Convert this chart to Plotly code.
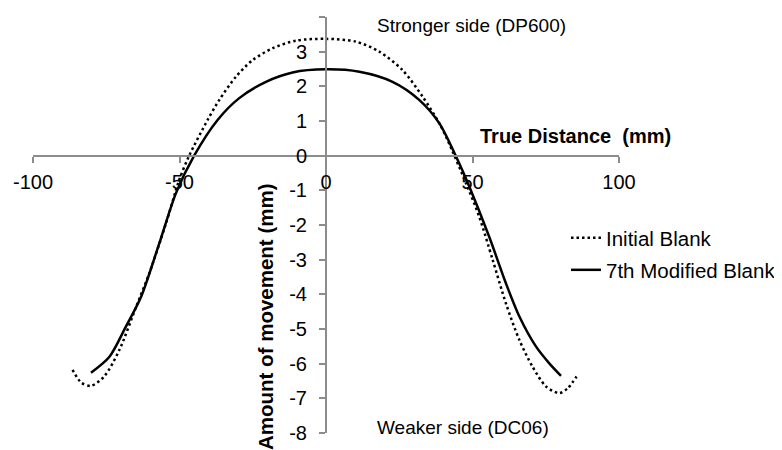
import plotly.graph_objects as go

# Initial Blank (dotted)
x_initial = [-86.5, -83.5, -80.2, -75.7, -70.5, -64.8, -60.3, -54.6, -50.1, -46.7, -40.4, -36.4,
             -30.7, -25.0, -18.2, -10.2, 0.0, 10.2, 18.2, 26.1, 33.0, 38.7, 41.5, 47.8, 52.3,
             56.9, 61.4, 66.0, 70.5, 75.1, 79.6, 82.5, 85.5]
y_initial = [-6.18, -6.55, -6.64, -6.37, -5.60, -4.36, -3.39, -1.95, -0.70, 0.0, 1.03, 1.61,
             2.28, 2.76, 3.10, 3.32, 3.37, 3.29, 3.00, 2.47, 1.70, 0.93, 0.45, -0.80, -1.76,
             -3.01, -4.26, -5.32, -6.09, -6.66, -6.85, -6.71, -6.37]

# 7th Modified Blank (solid)
x_modified = [-80.2, -73.9, -68.3, -63.1, -56.9, -51.2, -45.0, -37.0, -29.6, -20.5, -11.4, 0.0,
              11.4, 22.7, 31.8, 38.7, 44.9, 48.9, 55.7, 61.4, 66.0, 71.7, 76.2, 80.2]
y_modified = [-6.26, -5.80, -4.93, -4.07, -2.53, -1.08, 0.0, 1.03, 1.66, 2.13, 2.40, 2.49,
              2.42, 2.13, 1.61, 0.93, -0.12, -0.89, -2.34, -3.68, -4.64, -5.51, -5.99, -6.35]

x_ticks = [-100, -50, 0, 50, 100]
x_tick_labels = ["-100", "-50", "0", "50", "100"]
y_ticks = [-8, -7, -6, -5, -4, -3, -2, -1, 0, 1, 2, 3, 4]
y_tick_labels = ["-8", "-7", "-6", "-5", "-4", "-3", "-2", "-1", "0", "1", "2", "3", "4"]

FONT = "Liberation Sans, Arial, sans-serif"
AXIS_COLOR = "#8c8c8c"

# the page body has an 8px margin; the figure is sized so the plot lands where the reference has it
OFF = 8
W, H = 782 - OFF, 450 - OFF
L, R, T, B = 33 - OFF, 163, 17 - OFF, 17
PW, PH = W - L - R, H - T - B


def px_x(px):
    return (px - OFF - L) / PW


def px_y(py):
    return (H - B - (py - OFF)) / PH


fig = go.Figure()
fig.add_trace(go.Scatter(
    x=x_initial, y=y_initial, mode="lines", name="Initial Blank",
    line=dict(color="black", width=2.5, dash="2.5px,3px", shape="spline", smoothing=0.8),
    legend="legend",
))
fig.add_trace(go.Scatter(
    x=x_modified, y=y_modified, mode="lines", name="7th Modified Blank",
    line=dict(color="black", width=2.5, shape="spline", smoothing=0.8),
    legend="legend2",
))

fig.update_layout(
    width=W, height=H,
    margin=dict(l=L, r=R, t=T, b=B, autoexpand=False),
    paper_bgcolor="white", plot_bgcolor="white",
    font=dict(family=FONT, size=20, color="black"),
    xaxis=dict(
        range=[-100, 100], tickvals=x_ticks, ticktext=x_tick_labels,
        showgrid=False, zeroline=False,
        showline=True, linecolor=AXIS_COLOR, linewidth=2,
        ticks="outside", ticklen=6, tickcolor=AXIS_COLOR, tickwidth=2,
        anchor="free", position=8 / 12, ticklabelstandoff=2,
        tickfont=dict(size=20, color="black"),
    ),
    yaxis=dict(
        range=[-8, 4], tickvals=y_ticks, ticktext=y_tick_labels,
        showgrid=False, zeroline=False,
        showline=True, linecolor=AXIS_COLOR, linewidth=2,
        ticks="outside", ticklen=6, tickcolor=AXIS_COLOR, tickwidth=2,
        anchor="free", position=0.5, ticklabelstandoff=8,
        tickfont=dict(size=20, color="black"),
    ),
    legend=dict(x=px_x(566), y=px_y(238), xanchor="left", yanchor="middle",
                bgcolor="rgba(0,0,0,0)", font=dict(size=20.5)),
    legend2=dict(x=px_x(566), y=px_y(270), xanchor="left", yanchor="middle",
                 bgcolor="rgba(0,0,0,0)", font=dict(size=20.5)),
    showlegend=True,
)

fig.add_annotation(text="<b>True Distance  (mm)</b>", xref="paper", yref="paper",
                   x=px_x(575), y=px_y(136), showarrow=False,
                   xanchor="center", yanchor="middle",
                   font=dict(size=20, family=FONT, color="black"))
fig.add_annotation(text="<b>Amount of movement (mm)</b>", xref="paper", yref="paper",
                   x=px_x(265), y=px_y(317), showarrow=False, textangle=-90,
                   xanchor="center", yanchor="middle",
                   font=dict(size=20.5, family=FONT, color="black"))
fig.add_annotation(text="Stronger side (DP600)", xref="paper", yref="paper",
                   x=px_x(471), y=px_y(25), showarrow=False,
                   xanchor="center", yanchor="middle",
                   font=dict(size=19, family=FONT, color="black"))
fig.add_annotation(text="Weaker side (DC06)", xref="paper", yref="paper",
                   x=px_x(463), y=px_y(427), showarrow=False,
                   xanchor="center", yanchor="middle",
                   font=dict(size=19, family=FONT, color="black"))

fig.write_html("out.html")
